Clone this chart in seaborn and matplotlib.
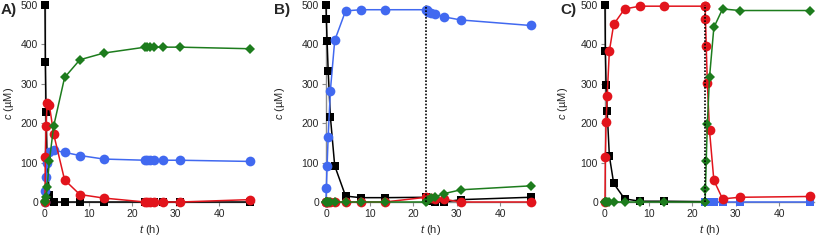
import matplotlib
matplotlib.use("Agg")
import matplotlib.pyplot as plt
import seaborn as sns

# sampling times (h)
t_a = [0, 0.08, 0.25, 0.5, 1, 2, 4.5, 8, 13.5, 23, 23.5, 24, 25, 27, 31, 47]
t_b = [0, 0.08, 0.25, 0.5, 1, 2, 4.5, 8, 13.5, 23, 23.25, 23.5, 24, 25, 27, 31, 47]
t_c_early = [0, 0.08, 0.25, 0.5, 1, 2, 4.5, 8, 13.5, 23]
t_c_late = [23, 23.08, 23.25, 23.5, 24, 25, 27, 31, 47]

# panel A concentrations (uM)
a_black = [500, 355, 228, 105, 19, 0, 0, 0, 0, 0, 0, 0, 0, 0, 0, 0]
a_blue = [0, 28, 64, 100, 127, 131, 126, 118, 109, 106, 106, 106, 106, 106, 106, 103]
a_red = [0, 114, 193, 251, 246, 172, 56, 19, 10, 0, 0, 0, 0, 0, 0, 6]
a_green = [0, 3, 12, 39, 104, 193, 316, 361, 378, 393, 393, 393, 393, 393, 393, 389]

# panel B
b_black = [500, 465, 408, 333, 217, 92, 15, 11, 11, 12, 8, 4, 2, 0, 0, 6, 12]
b_blue = [0, 35, 92, 166, 282, 410, 485, 488, 488, 488, 488, 483, 480, 478, 470, 462, 448]
b_red = [0, 0, 0, 0, 0, 0, 0, 0, 0, 12, 11, 10, 9, 8, 7, 0, 0]
b_green = [0, 0, 0, 0, 0, 0, 0, 0, 0, 0, 2, 5, 9, 13, 21, 31, 41]

# panel C
c_black = [500, 383, 297, 230, 117, 47, 8, 2, 2, 1]
c_red = [0, 115, 203, 269, 383, 451, 490, 497, 497, 497]
c_red_late = [497, 465, 395, 303, 182, 55, 8, 12, 14]
c_green = [0, 0, 0, 0, 0, 0, 0, 0, 0, 0]
c_green_late = [0, 34, 105, 198, 316, 443, 490, 486, 486]
c_blue_late = [0, 0, 0, 0, 0, 0, 0, 0, 0]

BLACK = "#000000"
BLUE = "#4169f0"
RED = "#e2141c"
GREEN = "#1d7c1d"

sns.set_style("ticks")
plt.rcParams["font.family"] = ["Liberation Sans", "DejaVu Sans"]
plt.rcParams["mathtext.fontset"] = "custom"
plt.rcParams["mathtext.it"] = "Liberation Sans:italic"
plt.rcParams["mathtext.rm"] = "Liberation Sans"

fig = plt.figure(figsize=(8.17, 2.41), dpi=100)
W, H = 817, 241
lefts = [45, 326, 605]
axes = [fig.add_axes([l / W, 39 / H, 209 / W, 197 / H]) for l in lefts]


def series(ax, t, c, color, marker, ms):
    sns.lineplot(x=t, y=c, ax=ax, color=color, marker=marker, markersize=ms,
                 markeredgewidth=0, linewidth=1.1, sort=False, estimator=None,
                 zorder=3)


ax = axes[0]
series(ax, t_a, a_black, BLACK, "s", 6)
series(ax, t_a, a_blue, BLUE, "o", 7)
series(ax, t_a, a_red, RED, "o", 7)
series(ax, t_a, a_green, GREEN, "D", 5.5)

ax = axes[1]
series(ax, t_b, b_black, BLACK, "s", 6)
series(ax, t_b, b_blue, BLUE, "o", 7)
series(ax, t_b, b_red, RED, "o", 7)
series(ax, t_b, b_green, GREEN, "D", 5.5)
ax.vlines(23, 0, 500, colors="black", linestyles=(0, (1, 1)), linewidth=1.2, zorder=4)

ax = axes[2]
series(ax, t_c_early, c_black, BLACK, "s", 6)
series(ax, t_c_late, c_blue_late, BLUE, "s", 6)
series(ax, t_c_early, c_red, RED, "o", 7)
series(ax, t_c_late, c_red_late, RED, "o", 7)
series(ax, t_c_early, c_green, GREEN, "D", 5.5)
series(ax, t_c_late, c_green_late, GREEN, "D", 5.5)
ax.vlines(23, 0, 500, colors="black", linestyles=(0, (1, 1)), linewidth=1.2, zorder=4)

label_x = [-0.14, -0.185, -0.167]
for ax, lab, x, lx in zip(axes, ["A)", "B)", "C)"], [1, 274, 560], label_x):
    ax.set_xlim(0, 48)
    ax.set_ylim(0, 500)
    ax.set_xticks([0, 10, 20, 30, 40])
    ax.set_yticks([0, 100, 200, 300, 400, 500])
    ax.set_xlabel("$\\it{t}$ (h)", fontsize=8, labelpad=3)
    ax.set_ylabel("$\\it{c}$ (µM)", fontsize=8)
    ax.yaxis.set_label_coords(lx, 0.5)
    ax.tick_params(labelsize=7.5, length=3, width=0.8, color="#8c8c8c", pad=2)
    sns.despine(ax=ax)
    for s in ["left", "bottom"]:
        ax.spines[s].set_color("#8c8c8c")
        ax.spines[s].set_linewidth(1)
    for ln in ax.lines:
        ln.set_clip_on(False)
    fig.text(x / W, 1 - 3 / H, lab, fontsize=11, fontweight="bold", va="top", ha="left")

fig.savefig("out.png", dpi=100)
